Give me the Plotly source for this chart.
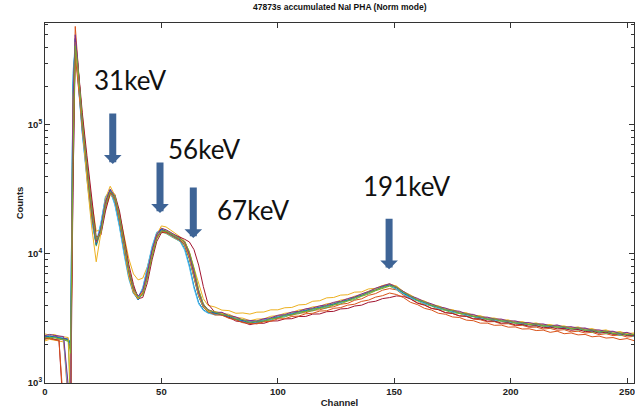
import math
import plotly.graph_objects as go

# Channel grid shared by all runs (finer sampling around the low-energy spike)
channel = list(range(0, 11, 2)) + [11, 12, 13, 14, 15] + list(range(16, 71, 2)) + list(range(73, 254, 3))

# Accumulated counts per channel for each run
run01 = [2280, 2330, 2260, 2240, 2210, 2190,
         2050, 210000, 420000, 250000, 150000,
         88000, 40000, 18500, 11800, 17000, 27500, 31000, 24500, 16500, 10200,
         6600, 5000, 4550, 5400, 7700, 11200, 14600, 15400, 14700, 14000,
         13300, 12600, 11000, 8200, 5600, 4200, 3700, 3500,
         3440, 3400, 3210, 3150, 3000, 2990, 2960, 3080, 3130, 3290,
         3270, 3490, 3480, 3680, 3660, 3880, 3880, 4130, 4190, 4420,
         4570, 4810, 5020, 5340, 5550, 5800, 5330, 4970, 4550, 4380,
         4130, 3990, 3790, 3720, 3530, 3520, 3350, 3320, 3180, 3150,
         3060, 3060, 2950, 2990, 2850, 2890, 2800, 2820, 2730, 2760,
         2660, 2690, 2610, 2610, 2530, 2520, 2480, 2470, 2380, 2410,
         2320]
run02 = [2210, 2260, 2300, 2190, 2150, 700,
         650, 90000, 580000, 330000, 190000,
         105000, 47000, 22000, 12500, 15000, 24000, 30500, 27500, 19000, 12000,
         7500, 5400, 4700, 5000, 6800, 10000, 13600, 15200, 14800, 14200,
         13500, 12900, 12100, 9900, 7100, 5000, 4000, 3650,
         3500, 3390, 3340, 3130, 3050, 2900, 2990, 3030, 3150, 3170,
         3320, 3350, 3490, 3500, 3670, 3690, 3830, 3900, 4080, 4140,
         4380, 4490, 4780, 4930, 5240, 5390, 5270, 4790, 4490, 4190,
         4030, 3800, 3700, 3510, 3460, 3320, 3280, 3130, 3090, 2980,
         2990, 2870, 2880, 2780, 2800, 2700, 2710, 2620, 2650, 2560,
         2590, 2490, 2520, 2440, 2470, 2370, 2410, 2330, 2360, 2270,
         2300]
run03 = [2120, 2180, 2150, 2100, 2080, 900,
         700, 60000, 390000, 280000, 180000,
         110000, 52000, 26000, 15000, 15500, 22500, 28500, 27000, 20500, 14000,
         9200, 7000, 6300, 6500, 8000, 10800, 14200, 16500, 16200, 15300,
         14500, 13600, 12600, 10400, 7800, 5800, 4500, 4000,
         3880, 3670, 3640, 3470, 3490, 3420, 3540, 3550, 3690, 3690,
         3830, 3850, 4030, 4060, 4300, 4340, 4570, 4600, 4800, 4830,
         5060, 5080, 5360, 5410, 5700, 5820, 5640, 5110, 4800, 4440,
         4290, 4020, 3940, 3720, 3690, 3500, 3480, 3310, 3300, 3150,
         3160, 3040, 3060, 2930, 2970, 2840, 2890, 2760, 2810, 2700,
         2740, 2630, 2680, 2560, 2610, 2490, 2540, 2430, 2490, 2370,
         2400]
run04 = [2300, 2270, 2320, 2280, 2230, 2180,
         1800, 40000, 470000, 320000, 190000,
         110000, 50000, 23500, 12800, 14500, 23500, 30500, 28500, 20000, 12500,
         7600, 5500, 4700, 4900, 6600, 9800, 13300, 15300, 15100, 14500,
         13800, 13200, 12400, 10200, 7500, 5200, 4100, 3700,
         3490, 3500, 3300, 3220, 3040, 3010, 2970, 3110, 3110, 3300,
         3330, 3460, 3530, 3670, 3740, 3870, 3950, 4120, 4230, 4420,
         4550, 4850, 4990, 5360, 5480, 5810, 5480, 5110, 4660, 4480,
         4190, 4070, 3830, 3770, 3580, 3540, 3380, 3360, 3180, 3200,
         3080, 3090, 2980, 2980, 2880, 2900, 2820, 2840, 2730, 2790,
         2670, 2710, 2620, 2640, 2530, 2550, 2470, 2490, 2380, 2440,
         2320]
run05 = [2200, 2240, 2190, 2210, 2160, 2100,
         600, 100000, 400000, 260000, 155000,
         92000, 42000, 20000, 11500, 15000, 24500, 29500, 26000, 17800, 11000,
         6900, 5100, 4450, 4950, 6900, 10100, 13400, 14800, 14400, 13700,
         13100, 12500, 11500, 9100, 6500, 4700, 3850, 3560,
         3390, 3390, 3200, 3110, 2960, 2930, 2910, 3020, 3070, 3210,
         3250, 3400, 3440, 3590, 3620, 3790, 3820, 4020, 4110, 4320,
         4440, 4700, 4890, 5190, 5370, 5630, 5300, 4910, 4520, 4330,
         4080, 3950, 3740, 3650, 3500, 3460, 3300, 3270, 3120, 3120,
         3010, 3020, 2910, 2920, 2820, 2830, 2760, 2770, 2670, 2730,
         2610, 2630, 2570, 2580, 2470, 2490, 2420, 2430, 2330, 2390,
         2290]
run06 = [2350, 2290, 2240, 2270, 2240, 800,
         750, 250000, 430000, 240000, 140000,
         85000, 38000, 18000, 12200, 17500, 28000, 30500, 24000, 16000, 9800,
         6400, 4900, 4600, 5500, 7900, 11500, 14800, 15100, 14500, 13900,
         13200, 12500, 10700, 7900, 5400, 4100, 3650, 3480,
         3370, 3390, 3230, 3170, 2980, 2970, 2960, 3080, 3100, 3260,
         3290, 3450, 3510, 3650, 3700, 3850, 3910, 4090, 4190, 4390,
         4540, 4820, 5010, 5340, 5550, 5730, 5290, 4900, 4530, 4370,
         4120, 3990, 3780, 3710, 3550, 3500, 3340, 3310, 3160, 3160,
         3050, 3060, 2940, 2960, 2860, 2870, 2790, 2810, 2710, 2750,
         2640, 2660, 2590, 2600, 2500, 2520, 2450, 2460, 2360, 2400,
         2300]
run07 = [2240, 2200, 2180, 2150, 550, 500,
         500, 30000, 380000, 300000, 200000,
         125000, 58000, 27000, 13500, 14000, 21500, 29500, 29000, 21500, 13500,
         8300, 5800, 4500, 4600, 6000, 9000, 12500, 14600, 14800, 14500,
         14000, 13500, 13000, 12400, 10800, 8200, 5600, 4100,
         3530, 3350, 3230, 3020, 2970, 2830, 2910, 2900, 3020, 3030,
         3140, 3150, 3280, 3280, 3420, 3430, 3570, 3590, 3750, 3780,
         3950, 4010, 4220, 4300, 4510, 4590, 4730, 4690, 4480, 4150,
         4010, 3780, 3700, 3510, 3460, 3310, 3290, 3150, 3140, 3020,
         3020, 2910, 2930, 2820, 2840, 2750, 2780, 2680, 2710, 2630,
         2650, 2560, 2600, 2500, 2530, 2430, 2480, 2380, 2410, 2330,
         2350]
run08 = [2260, 2310, 2280, 2230, 2200, 2160,
         2000, 180000, 460000, 285000, 165000,
         98000, 44000, 20500, 11800, 15800, 25500, 31500, 27000, 18000, 11000,
         6800, 5000, 4400, 5000, 7100, 10500, 14000, 15600, 15000, 14300,
         13600, 12900, 11800, 9300, 6600, 4700, 3850, 3580,
         3490, 3370, 3300, 3100, 3060, 2910, 3010, 3010, 3180, 3210,
         3360, 3410, 3570, 3630, 3770, 3830, 3980, 4080, 4270, 4380,
         4630, 4780, 5090, 5270, 5590, 5750, 5510, 4960, 4670, 4380,
         4230, 3980, 3890, 3690, 3630, 3480, 3430, 3270, 3240, 3130,
         3130, 3030, 3030, 2920, 2930, 2830, 2880, 2770, 2790, 2720,
         2730, 2630, 2680, 2570, 2580, 2480, 2530, 2420, 2430, 2370,
         2380]
run09 = [2180, 2220, 2160, 2140, 650, 600,
         600, 70000, 350000, 240000, 150000,
         93000, 43000, 20500, 12300, 15500, 24800, 30000, 26500, 18200, 11300,
         7000, 5100, 4500, 5000, 6900, 10200, 13500, 15000, 14600, 14000,
         13300, 12700, 11700, 9300, 6700, 4800, 3900, 3580,
         3370, 3360, 3170, 3090, 2930, 2910, 2870, 2980, 3010, 3140,
         3150, 3280, 3300, 3440, 3470, 3610, 3630, 3790, 3840, 4010,
         4080, 4290, 4390, 4630, 4750, 4980, 4850, 4590, 4220, 4050,
         3790, 3680, 3470, 3410, 3250, 3220, 3070, 3040, 2910, 2910,
         2800, 2810, 2710, 2720, 2620, 2630, 2550, 2570, 2470, 2520,
         2410, 2440, 2360, 2380, 2280, 2310, 2230, 2250, 2170, 2210,
         2130]
run10 = [2400, 2350, 2380, 2300, 2280, 2250,
         850, 160000, 440000, 270000, 160000,
         90000, 38000, 16500, 8700, 14500, 27000, 33500, 28500, 18500, 10800,
         6700, 5000, 4500, 5100, 7200, 10700, 14300, 15900, 15300, 14600,
         13800, 13100, 12000, 9500, 6700, 4800, 3900, 3600,
         3590, 3460, 3410, 3220, 3180, 3040, 3130, 3140, 3290, 3330,
         3470, 3520, 3680, 3730, 3890, 3940, 4110, 4180, 4390, 4480,
         4710, 4870, 5150, 5350, 5670, 5870, 5590, 5070, 4790, 4470,
         4320, 4070, 3960, 3760, 3700, 3540, 3500, 3350, 3320, 3190,
         3190, 3080, 3080, 2970, 2990, 2880, 2920, 2820, 2840, 2760,
         2770, 2680, 2720, 2610, 2640, 2540, 2580, 2470, 2500, 2420,
         2440]
run11 = [2330, 2380, 2340, 2310, 2290, 950,
         700, 140000, 500000, 310000, 180000,
         104000, 47000, 22500, 12600, 15600, 25500, 31800, 28000, 19200, 11800,
         7300, 5300, 4700, 5200, 7200, 10600, 14200, 15800, 15400, 14700,
         14000, 13300, 12300, 9800, 7000, 5000, 4000, 3700,
         3530, 3530, 3330, 3250, 3080, 3050, 3030, 3150, 3200, 3350,
         3390, 3550, 3590, 3760, 3810, 3960, 4030, 4220, 4300, 4510,
         4650, 4910, 5110, 5430, 5620, 5880, 5530, 5120, 4730, 4530,
         4260, 4110, 3900, 3810, 3640, 3600, 3430, 3400, 3240, 3240,
         3130, 3130, 3020, 3030, 2930, 2940, 2860, 2870, 2770, 2820,
         2710, 2730, 2660, 2670, 2570, 2580, 2510, 2520, 2420, 2470,
         2360]
run12 = [2270, 2230, 2270, 2200, 2180, 2130,
         1700, 50000, 410000, 300000, 185000,
         108000, 49000, 23000, 12900, 14800, 23800, 30300, 28200, 19700, 12300,
         7500, 5400, 4600, 4800, 6500, 9600, 13100, 15100, 15000, 14400,
         13800, 13200, 12500, 10400, 7700, 5300, 4100, 3680,
         3530, 3410, 3330, 3140, 3100, 2940, 3020, 3020, 3150, 3200,
         3350, 3380, 3550, 3590, 3750, 3800, 3960, 4030, 4250, 4330,
         4570, 4720, 5020, 5220, 5510, 5670, 5530, 5040, 4720, 4400,
         4250, 4000, 3890, 3690, 3640, 3470, 3430, 3280, 3250, 3120,
         3130, 3020, 3020, 2910, 2930, 2830, 2870, 2760, 2790, 2710,
         2730, 2630, 2670, 2560, 2580, 2480, 2520, 2410, 2440, 2360,
         2380]

runs = [run01, run02, run03, run04, run05, run06,
        run07, run08, run09, run10, run11, run12]
for r in runs:
    assert len(r) == len(channel), (len(r), len(channel))

# MATLAB-style line colour order
line_colors = ["#0072BD", "#D95319", "#EDB120", "#7E2F8E",
               "#77AC30", "#4DBEEE", "#A2142F"]

# Peak markers: energy label, channel of the arrow, counts at the arrow tip
peak_labels = ["31keV", "56keV", "67keV", "191keV"]
peak_channels = [29.1, 49.4, 63.7, 147.8]
peak_tip_counts = [49900, 20800, 13300, 7600]
label_shift = [(17, 84), (44, 64), (60, 28), (17, 83)]

fig = go.Figure()
for i, r in enumerate(runs):
    fig.add_trace(go.Scatter(
        x=channel, y=r, mode="lines",
        line=dict(color=line_colors[i % len(line_colors)], width=1),
        showlegend=False, hoverinfo="skip",
    ))

arrow_color = "#3E6496"
for lab, ch, tip, (dx, dy) in zip(peak_labels, peak_channels, peak_tip_counts, label_shift):
    fig.add_annotation(
        x=ch, y=math.log10(tip), xref="x", yref="y",
        text="", showarrow=True, ax=0, ay=-52,
        arrowhead=1, arrowsize=0.42, arrowwidth=7, arrowcolor=arrow_color,
    )
    fig.add_annotation(
        x=ch, y=math.log10(tip), xref="x", yref="y",
        text=lab, showarrow=False, xshift=dx, yshift=dy,
        font=dict(family="Lato", size=26, color="#111111"),
    )

axis_font = dict(family="Liberation Sans", size=9.5, color="#222222", weight="bold")
minor_vals = [k * 10 ** d for d in (3, 4, 5) for k in range(2, 10)]

fig.update_xaxes(
    range=[0, 253], tickvals=[0, 50, 100, 150, 200, 250],
    ticks="inside", ticklen=5, tickwidth=1, tickcolor="#333333",
    showline=True, linecolor="#333333", linewidth=1, mirror="ticks",
    showgrid=False, zeroline=False, tickfont=axis_font,
    title=dict(text="Channel", font=axis_font, standoff=2),
)
fig.update_yaxes(
    type="log", range=[3, 5.79],
    tickvals=[1e3, 1e4, 1e5],
    ticktext=["10<sup>3</sup>", "10<sup>4</sup>", "10<sup>5</sup>"],
    ticks="inside", ticklen=5, tickwidth=1, tickcolor="#333333",
    minor=dict(tickvals=minor_vals, ticks="inside", ticklen=3, tickcolor="#333333"),
    showline=True, linecolor="#333333", linewidth=1, mirror="ticks",
    showgrid=False, zeroline=False, tickfont=axis_font,
    title=dict(text="Counts", font=axis_font, standoff=2),
)

fig.update_layout(
    width=635, height=416,
    margin=dict(l=45, r=1, t=23, b=33),
    paper_bgcolor="white", plot_bgcolor="white",
    title=dict(
        text="47873s accumulated NaI PHA (Norm mode)",
        x=0.535, xanchor="center", y=0.982, yanchor="middle",
        font=dict(family="Liberation Sans", size=8.5, color="#111111", weight="bold"),
    ),
)

fig.write_html("out.html")
